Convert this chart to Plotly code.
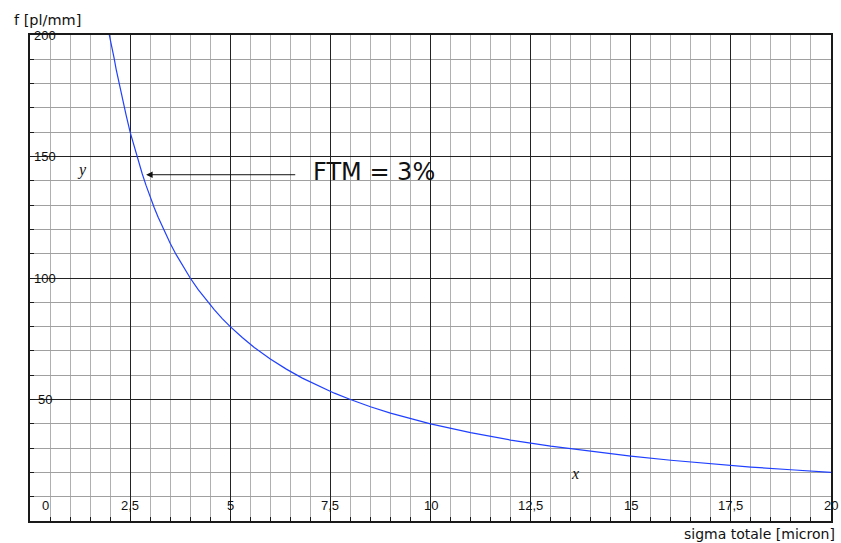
import plotly.graph_objects as go

# data
sigma = [1.98, 2.05, 2.1, 2.15, 2.2, 2.3, 2.4, 2.5, 2.6, 2.7, 2.8, 2.9, 3.0, 3.1,
         3.2, 3.35, 3.5, 3.65, 3.8, 4.0, 4.2, 4.4, 4.6, 4.8, 5.0, 5.3, 5.6, 6.0,
         6.4, 6.8, 7.2, 7.6, 8.0, 8.5, 9.0, 9.5, 10.0, 11.0, 12.0, 13.0,
         14.0, 15.0, 16.0, 17.0, 18.0, 19.0, 20.0]
freq = [200, 195, 190.5, 186, 182, 174, 167, 160, 154, 148, 143, 138, 133.3, 129,
        125, 119.4, 114.3, 109.6, 105.3, 100, 95.2, 90.9, 87, 83.3, 80, 75.5, 71.4, 66.7,
        62.5, 58.8, 55.6, 52.6, 50, 47, 44.4, 42.1, 40, 36.4, 33.3, 30.8,
        28.6, 26.7, 25, 23.5, 22.2, 21.1, 20]

x_tick_vals = [0, 2.5, 5, 7.5, 10, 12.5, 15, 17.5, 20]
x_tick_text = ["0", "2,5", "5", "7,5", "10", "12,5", "15", "17,5", "20"]
y_tick_vals = [50, 100, 150, 200]
y_tick_text = ["50", "100", "150", "200"]

fig = go.Figure()
fig.add_trace(go.Scatter(x=sigma, y=freq, mode="lines",
                         line=dict(color="#2040ff", width=1.2),
                         hoverinfo="skip", showlegend=False))

axis_common = dict(showline=True, mirror=True, linewidth=2, linecolor="#1a1a1a",
                   showgrid=True, gridcolor="#222222", gridwidth=1,
                   zeroline=False, showticklabels=False,
                   ticks="inside", ticklen=5, tickcolor="#1a1a1a")

fig.update_xaxes(range=[0, 20], dtick=2.5, tick0=0,
                 minor=dict(dtick=0.5, showgrid=True, gridcolor="#b0b0b0", gridwidth=1,
                            ticks="inside", ticklen=4, tickcolor="#1a1a1a"),
                 **axis_common)
fig.update_yaxes(range=[0, 200], dtick=50, tick0=0,
                 minor=dict(dtick=10, showgrid=True, gridcolor="#a0a0a0", gridwidth=1,
                            ticks="inside", ticklen=4, tickcolor="#1a1a1a"),
                 **axis_common)

ann = []
tick_font = dict(family="Liberation Sans, Arial, sans-serif", size=13, color="#111")
for v, t in zip(x_tick_vals, x_tick_text):
    ann.append(dict(x=v, y=6.5, xref="x", yref="y", text=t, showarrow=False,
                    font=tick_font, xanchor="center", yanchor="middle",
                    xshift=15 if v == 0 else 0))
for v, t in zip(y_tick_vals, y_tick_text):
    ann.append(dict(x=0, y=v, xref="x", yref="y", text=t, showarrow=False,
                    font=tick_font, xanchor="center", yanchor="middle", xshift=15))

# arrow and labels
ann.append(dict(x=2.9, y=142.5, xref="x", yref="y", ax=6.66, ay=142.5,
                axref="x", ayref="y", showarrow=True, arrowhead=2, arrowsize=1.3,
                arrowwidth=1, arrowcolor="#111", text=""))
ann.append(dict(x=8.6, y=143.5, xref="x", yref="y", text="FTM = 3%", showarrow=False,
                font=dict(family="DejaVu Sans, sans-serif", size=24, color="#111"),
                xanchor="center", yanchor="middle"))
ann.append(dict(x=1.3, y=144.5, xref="x", yref="y", text="<i>y</i>", showarrow=False,
                font=dict(family="Liberation Serif, Times New Roman, serif", size=16, color="#111"),
                xanchor="center", yanchor="middle"))
ann.append(dict(x=13.6, y=19.5, xref="x", yref="y", text="<i>x</i>", showarrow=False,
                font=dict(family="Liberation Serif, Times New Roman, serif", size=16, color="#111"),
                xanchor="center", yanchor="middle"))
ann.append(dict(x=0, y=1, xref="paper", yref="paper",
                text="f [pl/mm]", showarrow=False,
                font=dict(family="DejaVu Sans, sans-serif", size=14.5, color="#111"),
                xanchor="left", yanchor="middle", xshift=-18, yshift=15))
ann.append(dict(x=1, y=0, xref="paper", yref="paper", text="sigma totale [micron]",
                showarrow=False,
                font=dict(family="DejaVu Sans, sans-serif", size=14, color="#111"),
                xanchor="right", yanchor="middle", xshift=6, yshift=-13))

fig.update_layout(width=841, height=543, margin=dict(l=30, r=8, t=35, b=22),
                  paper_bgcolor="white", plot_bgcolor="white",
                  annotations=ann, showlegend=False)

fig.write_html("out.html", config={"displayModeBar": False},
               post_script="document.body.style.margin='0';document.body.style.overflow='hidden';")
